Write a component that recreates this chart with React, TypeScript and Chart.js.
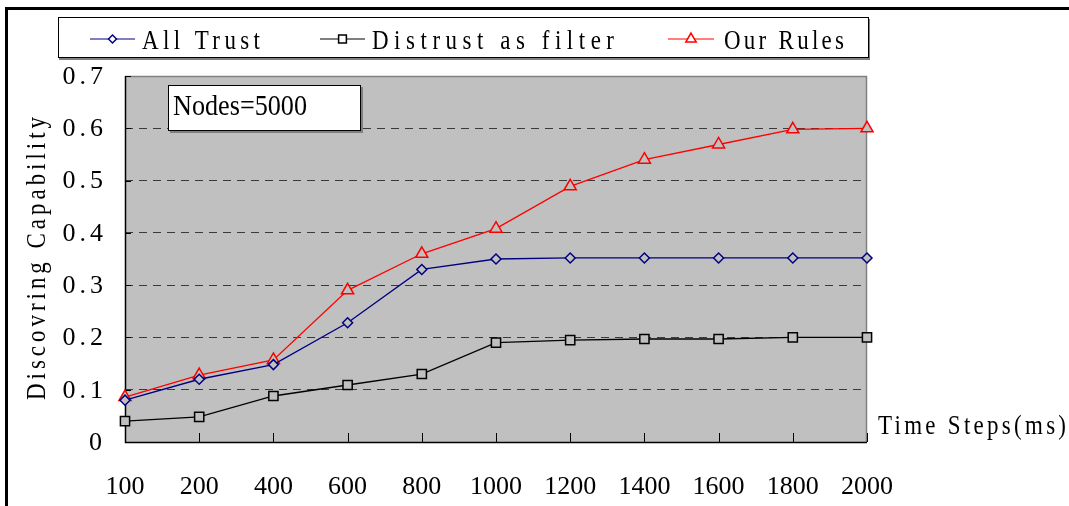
import React, { useEffect, useRef } from 'react';
import { Chart, registerables } from 'chart.js';
import { drawPoint } from 'chart.js/helpers';

Chart.register(...registerables);

const timeSteps = ['100', '200', '400', '600', '800', '1000', '1200', '1400', '1600', '1800', '2000'];
const allTrust = [0.08, 0.12, 0.148, 0.228, 0.33, 0.35, 0.352, 0.352, 0.352, 0.352, 0.352];
const distrustFilter = [0.04, 0.048, 0.088, 0.109, 0.13, 0.19, 0.195, 0.197, 0.197, 0.2, 0.2];
const ourRules = [0.086, 0.128, 0.157, 0.29, 0.36, 0.408, 0.489, 0.54, 0.569, 0.598, 0.6];
const seriesLabels = ['All Trust', 'Distrust as filter', 'Our Rules'];
const seriesColors = ['#000080', '#000000', '#ff0000'];
const seriesMarkers = ['rectRot', 'rect', 'triangle'];
const seriesRadius = [5, 6.5, 7];
const yMin = 0;
const yMax = 0.7;
const yStep = 0.1;
const nodesLabel = 'Nodes=5000';
const xTitle = 'Time Steps(ms)';
const yTitle = 'Discovring Capability';

const SERIF = "'Liberation Serif', 'DejaVu Serif', serif";

// narrow, tall glyphs spread to a target width (SimSun-like monospace look)
function spacedText(ctx: any, text: string, x: number, y: number, w: number, sx = 0.82) {
  ctx.save();
  ctx.letterSpacing = '0px';
  const natural = ctx.measureText(text).width;
  const ls = Math.max(0, (w / sx - natural) / Math.max(1, text.length - 1));
  ctx.translate(x, y);
  ctx.scale(sx, 1);
  ctx.letterSpacing = `${ls}px`;
  ctx.fillText(text, 0, 0);
  ctx.restore();
}

function fitText(ctx: CanvasRenderingContext2D, text: string, x: number, y: number, w: number) {
  const natural = ctx.measureText(text).width;
  ctx.save();
  ctx.translate(x, y);
  ctx.scale(w / natural, 1);
  ctx.fillText(text, 0, 0);
  ctx.restore();
}

const decorPlugin = {
  id: 'decor',
  beforeDraw(chart: any) {
    const { ctx, chartArea: a, width, height } = chart;
    ctx.save();
    ctx.fillStyle = '#ffffff';
    ctx.fillRect(0, 0, width, height);
    ctx.fillStyle = '#000000';
    ctx.fillRect(5, 7, width, 3);
    ctx.fillRect(5, 7, 3, height);
    ctx.fillStyle = '#c0c0c0';
    ctx.fillRect(a.left, a.top, a.right - a.left, a.bottom - a.top);
    ctx.restore();
  },
  beforeDatasetsDraw(chart: any) {
    const { ctx, chartArea: a, scales } = chart;
    ctx.save();
    ctx.strokeStyle = '#808080';
    ctx.lineWidth = 1.5;
    ctx.beginPath();
    ctx.moveTo(a.left, a.top + 0.5);
    ctx.lineTo(a.right - 0.5, a.top + 0.5);
    ctx.lineTo(a.right - 0.5, a.bottom);
    ctx.stroke();
    ctx.strokeStyle = '#000000';
    ctx.lineWidth = 1.5;
    ctx.beginPath();
    ctx.moveTo(a.left + 0.5, a.top);
    ctx.lineTo(a.left + 0.5, a.bottom + 0.5);
    ctx.lineTo(a.right, a.bottom + 0.5);
    ctx.stroke();
    ctx.lineWidth = 1;
    const xs = scales.x;
    ctx.beginPath();
    for (let i = 0; i < timeSteps.length; i++) {
      const px = Math.round(xs.getPixelForTick(i)) + 0.5;
      ctx.moveTo(px, a.bottom);
      ctx.lineTo(px, a.bottom - 9);
    }
    ctx.stroke();
    const ys = scales.y;
    ctx.beginPath();
    for (let v = yMin; v <= yMax + 1e-9; v += yStep) {
      const py = Math.round(ys.getPixelForValue(v)) + 0.5;
      ctx.moveTo(a.left, py);
      ctx.lineTo(a.left + 6, py);
    }
    ctx.stroke();

    // y tick labels (from the library's y scale), with wide SimSun-like spacing
    ctx.fillStyle = '#000000';
    ctx.font = `26px ${SERIF}`;
    ctx.textAlign = 'right';
    ctx.textBaseline = 'middle';
    ys.ticks.forEach((t: any) => {
      const py = ys.getPixelForValue(t.value);
      const label = Math.abs(t.value) < 1e-9 ? '0' : Number(t.value).toFixed(1);
      ctx.save();
      ctx.letterSpacing = label.length > 1 ? '4px' : '0px';
      ctx.fillText(label, label.length > 1 ? 107 : 102, py + 1);
      ctx.restore();
    });

    // Nodes box
    ctx.fillStyle = '#808080';
    ctx.fillRect(170, 87, 193, 46);
    ctx.fillStyle = '#ffffff';
    ctx.fillRect(168, 85, 192, 45);
    ctx.strokeStyle = '#000000';
    ctx.lineWidth = 1;
    ctx.strokeRect(168.5, 85.5, 192, 45);
    ctx.fillStyle = '#000000';
    ctx.font = `29px ${SERIF}`;
    ctx.textAlign = 'left';
    ctx.textBaseline = 'alphabetic';
    fitText(ctx, nodesLabel, 173, 115, 134);
    ctx.restore();
  },
  afterDraw(chart: any) {
    const { ctx } = chart;
    ctx.save();
    // legend box
    ctx.fillStyle = '#808080';
    ctx.fillRect(59, 19, 811, 41);
    ctx.fillStyle = '#ffffff';
    ctx.fillRect(58, 17, 811, 41);
    ctx.strokeStyle = '#000000';
    ctx.lineWidth = 1;
    ctx.strokeRect(58.5, 17.5, 810, 40);
    const items = [
      { x1: 90, x2: 135, tx: 142, w: 118 },
      { x1: 320, x2: 365, tx: 372, w: 242 },
      { x1: 668, x2: 714, tx: 724, w: 120 },
    ];
    const ly = 39;
    chart.data.datasets.forEach((ds: any, i: number) => {
      const it = items[i];
      ctx.strokeStyle = ds.borderColor;
      ctx.lineWidth = 1.2;
      ctx.beginPath();
      ctx.moveTo(it.x1, ly);
      ctx.lineTo(it.x2, ly);
      ctx.stroke();
      ctx.fillStyle = '#ffffff';
      ctx.strokeStyle = ds.borderColor;
      ctx.lineWidth = 1.5;
      drawPoint(ctx, { pointStyle: ds.pointStyle, radius: ds.pointRadius - 1, borderWidth: 1.5, rotation: 0 } as any, (it.x1 + it.x2) / 2, ly);
      ctx.fillStyle = '#000000';
      ctx.font = `28px ${SERIF}`;
      ctx.textAlign = 'left';
      ctx.textBaseline = 'alphabetic';
      spacedText(ctx, ds.label, it.tx, 49, it.w);
    });
    // axis titles
    ctx.fillStyle = '#000000';
    ctx.font = `28px ${SERIF}`;
    ctx.textAlign = 'left';
    ctx.textBaseline = 'alphabetic';
    spacedText(ctx, xTitle, 878, 434, 188);
    ctx.save();
    ctx.translate(45, 400);
    ctx.rotate(-Math.PI / 2);
    spacedText(ctx, yTitle, 0, 0, 283);
    ctx.restore();
    ctx.restore();
  },
};

export default function App() {
  const ref = useRef<HTMLCanvasElement | null>(null);
  useEffect(() => {
    document.body.style.margin = '0';
    const canvas = ref.current!;
    const data = [allTrust, distrustFilter, ourRules];
    const chart = new Chart(canvas, {
      type: 'line',
      data: {
        labels: timeSteps,
        datasets: data.map((d, i) => ({
          label: seriesLabels[i],
          data: d,
          borderColor: seriesColors[i],
          borderWidth: 1.3,
          pointStyle: seriesMarkers[i] as any,
          pointRadius: seriesRadius[i],
          pointBorderWidth: 1.5,
          pointBorderColor: seriesColors[i],
          pointBackgroundColor: '#c0c0c0',
          tension: 0,
          fill: false,
        })),
      },
      options: {
        animation: false,
        responsive: false,
        events: [],
        layout: { padding: { top: 76, right: 202, bottom: 0, left: 0 } },
        plugins: {
          legend: { display: false },
          tooltip: { enabled: false },
        },
        scales: {
          x: {
            offset: false,
            grid: { display: false, drawTicks: false },
            border: { display: false },
            ticks: {
              color: '#000000',
              font: { family: SERIF, size: 26 },
              padding: 30,
              maxRotation: 0,
              autoSkip: false,
            },
            afterFit: (s: any) => { s.height = 64; },
          },
          y: {
            min: yMin,
            max: yMax,
            grid: {
              drawTicks: false,
              color: (c: any) => (c.tick && (c.tick.value <= 1e-9 || c.tick.value >= yMax - 1e-9) ? 'rgba(0,0,0,0)' : '#3a3a3a'),
              lineWidth: 1,
            },
            border: { display: false, dash: [8, 6] },
            ticks: {
              stepSize: yStep,
              display: false,
            },
            afterFit: (s: any) => { s.width = 125; },
          },
        },
      },
      plugins: [decorPlugin],
    });
    return () => chart.destroy();
  }, []);
  return <canvas ref={ref} width={1069} height={506} style={{ display: 'block', width: 1069, height: 506 }} />;
}
